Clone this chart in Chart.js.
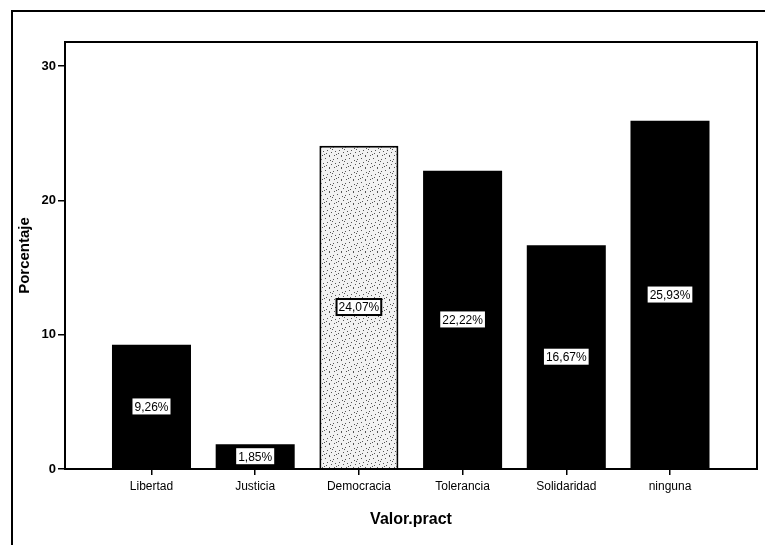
<!DOCTYPE html>
<html>
<head>
<meta charset="utf-8">
<script src="https://cdn.jsdelivr.net/npm/chart.js@4.4.0/dist/chart.umd.min.js"></script>
<style>
  html, body { margin: 0; padding: 0; background: #fff; }
  canvas { display: block; }
</style>
</head>
<body>
<canvas id="valorChart" width="765" height="545"></canvas>
<script>
// datos del gráfico
const categorias = ['Libertad', 'Justicia', 'Democracia', 'Tolerancia', 'Solidaridad', 'ninguna'];
const porcentajes = [9.26, 1.85, 24.07, 22.22, 16.67, 25.93];
const etiquetas = ['9,26%', '1,85%', '24,07%', '22,22%', '16,67%', '25,93%'];
const ticksY = [0, 10, 20, 30];

const FUENTE = '"Liberation Sans", Arial, sans-serif';

// patrón punteado para la barra de Democracia
function patronPunteado() {
    const c = document.createElement('canvas');
    c.width = 12; c.height = 12;
    const g = c.getContext('2d');
    g.fillStyle = '#f2f2f2';
    g.fillRect(0, 0, 12, 12);
    g.fillStyle = '#555';
    const puntos = [[1,2],[5,0],[9,3],[3,6],[7,8],[11,7],[0,10],[5,11],[8,5],[2,9],[10,11],[6,4]];
    puntos.forEach(p => g.fillRect(p[0], p[1], 1, 1));
    return g.createPattern(c, 'repeat');
}

const colores = categorias.map((c, i) => i === 2 ? patronPunteado() : '#000');

// marco exterior y marco del área de trazado
const marcos = {
    id: 'marcos',
    afterDraw(chart) {
        const ctx = chart.ctx;
        const a = chart.chartArea;
        ctx.save();
        ctx.strokeStyle = '#000';
        ctx.lineWidth = 2;
        ctx.beginPath();
        ctx.moveTo(12, 545);
        ctx.lineTo(12, 11);
        ctx.lineTo(765, 11);
        ctx.stroke();
        ctx.strokeRect(a.left, a.top, a.right - a.left, a.bottom - a.top);
        ctx.restore();
    }
};

// etiquetas de porcentaje en el centro de cada barra
const etiquetasBarras = {
    id: 'etiquetasBarras',
    afterDatasetsDraw(chart) {
        const ctx = chart.ctx;
        const meta = chart.getDatasetMeta(0);
        ctx.save();
        ctx.font = '12px ' + FUENTE;
        ctx.textAlign = 'center';
        ctx.textBaseline = 'middle';
        meta.data.forEach((bar, i) => {
            const cy = (bar.y + bar.base) / 2;
            const w = ctx.measureText(etiquetas[i]).width + 4;
            const h = 16;
            ctx.fillStyle = '#fff';
            ctx.fillRect(bar.x - w / 2, cy - h / 2, w, h);
            if (i === 2) {
                ctx.strokeStyle = '#000';
                ctx.lineWidth = 2;
                ctx.strokeRect(bar.x - w / 2, cy - h / 2, w, h);
            }
            ctx.fillStyle = '#000';
            ctx.fillText(etiquetas[i], bar.x, cy + 1);
        });
        ctx.restore();
    }
};

new Chart(document.getElementById('valorChart').getContext('2d'), {
    type: 'bar',
    data: {
        datasets: [{
            data: porcentajes.map((v, i) => ({ x: i, y: v })),
            backgroundColor: colores,
            borderColor: '#000',
            borderWidth: categorias.map((c, i) => i === 2 ? 2 : 0),
            barPercentage: 0.762,
            categoryPercentage: 1
        }]
    },
    options: {
        responsive: false,
        animation: false,
        layout: { padding: { top: 42, right: 8, left: 0, bottom: 0 } },
        plugins: { legend: { display: false }, tooltip: { enabled: false } },
        scales: {
            x: {
                type: 'linear',
                offset: false,
                min: -0.834,
                max: 5.839,
                afterBuildTicks: s => { s.ticks = categorias.map((c, i) => ({ value: i })); },
                afterFit: s => { s.height = 76; },
                grid: { offset: false, drawOnChartArea: false, tickLength: 6, tickColor: '#000', lineWidth: 1.5 },
                border: { display: false },
                ticks: {
                    color: '#000',
                    padding: 4,
                    maxRotation: 0,
                    font: { family: FUENTE, size: 12 },
                    callback: v => categorias[v]
                },
                title: {
                    display: true,
                    text: 'Valor.pract',
                    color: '#000',
                    padding: { top: 4, bottom: 16 },
                    font: { family: FUENTE, size: 16, weight: 'bold' }
                }
            },
            y: {
                min: 0,
                max: 31.8,
                afterBuildTicks: s => { s.ticks = ticksY.map(v => ({ value: v })); },
                afterFit: s => { s.width = 65; },
                grid: { drawOnChartArea: false, tickLength: 7, tickColor: '#000', lineWidth: 1.5 },
                border: { display: false },
                ticks: {
                    color: '#000',
                    padding: 2,
                    font: { family: FUENTE, size: 13, weight: 'bold' }
                },
                title: {
                    display: true,
                    text: 'Porcentaje',
                    color: '#000',
                    padding: { top: 16, bottom: 0 },
                    font: { family: FUENTE, size: 15, weight: 'bold' }
                }
            }
        }
    },
    plugins: [marcos, etiquetasBarras]
});
</script>
</body>
</html>
